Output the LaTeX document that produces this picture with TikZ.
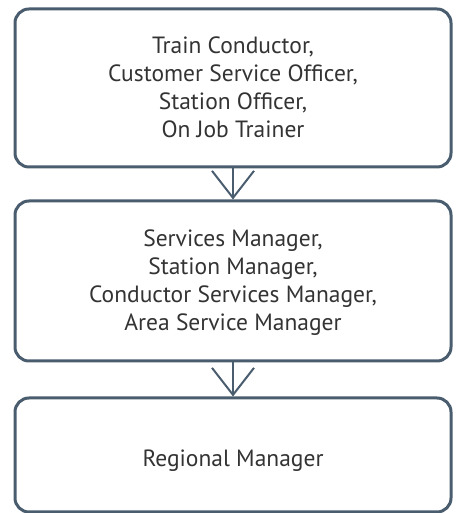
\documentclass[tikz,border=0pt]{standalone}
\usepackage{fontspec}
\setmainfont{PT Sans}
\usetikzlibrary{arrows.meta}
\definecolor{boxc}{HTML}{4A5D6E}
\definecolor{txt}{HTML}{333333}
\begin{document}
\begin{tikzpicture}[x=1pt,y=1pt,
  box/.style={draw=boxc, line width=3pt, rounded corners=14pt, minimum width=436pt, inner sep=0pt},
  lbl/.style={text=txt, font=\fontsize{23.5}{28}\selectfont, align=center, inner sep=0pt},
  conn/.style={draw=boxc, line width=2pt, -{Straight Barb[length=27pt,width=42pt]}}]
\useasboundingbox (0,0) rectangle (457,513);
\node[box, minimum height=158pt] (b1) at (233,425) {};
\node[box, minimum height=160pt] (b2) at (233,232) {};
\node[box, minimum height=114pt] (b3) at (233,58) {};
\node[lbl, anchor=base] (t1) at (233,375) {Train Conductor,\\Customer Service Officer,\\Station Officer,\\On Job Trainer};
\node[lbl, anchor=base] (t2) at (233,182) {Services Manager,\\Station Manager,\\Conductor Services Manager,\\Area Service Manager};
\node[lbl, anchor=base] (t3) at (233,46) {Regional Manager};
\draw[conn] (b1.south) -- (b2.north);
\draw[conn] (b2.south) -- (b3.north);
\end{tikzpicture}
\end{document}
